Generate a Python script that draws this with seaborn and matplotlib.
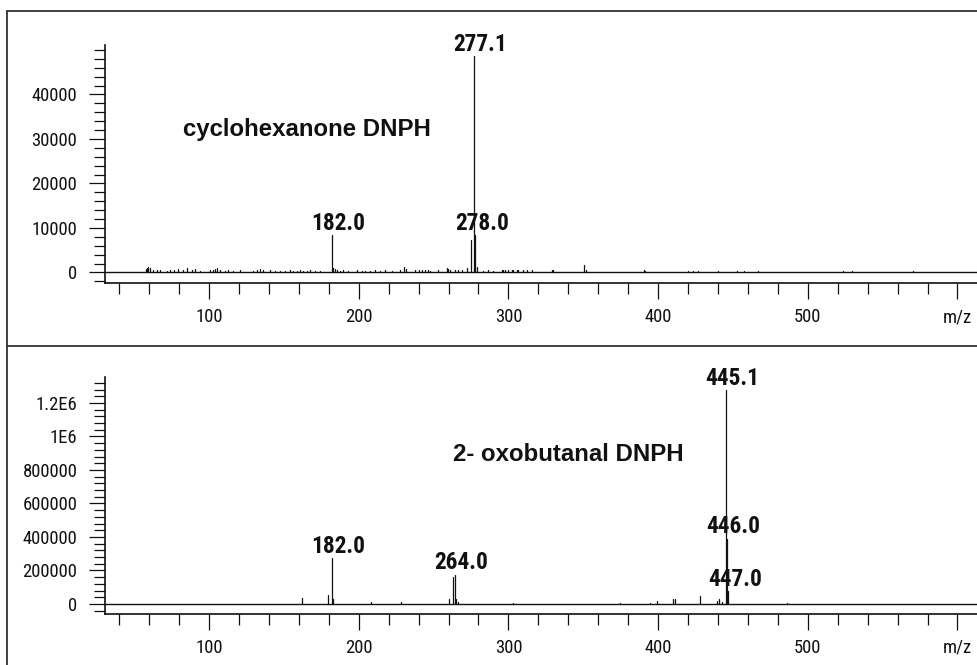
import matplotlib
matplotlib.use("Agg")
import matplotlib.pyplot as plt
from matplotlib.lines import Line2D
from matplotlib.ticker import FixedLocator, FixedFormatter, MultipleLocator
import pandas as pd
import seaborn as sns

# ---- cyclohexanone DNPH: centroid peaks (m/z, abundance) ----
cyc_mz = [57.7, 58.4, 59.5, 60.6, 62.8, 65.1, 67.3, 71.7, 73.9, 76.6, 79.5, 82.8,
          85.1, 88.4, 90.6, 94.0, 100.7, 102.9, 104.0, 105.1, 107.3, 110.7, 112.9,
          116.2, 120.7, 129.6, 131.9, 134.1, 136.3, 140.7, 144.1, 147.4, 150.8,
          154.1, 156.3, 158.6, 160.8, 163.0, 165.3, 167.5, 170.8, 174.1,
          182.0, 183.0, 184.2, 185.3, 187.5, 189.7, 193.1, 198.7, 202.0, 204.2,
          207.5, 210.9, 214.2, 217.6, 222.0, 227.6, 230.3, 231.6, 237.6, 240.5,
          242.1, 244.3, 246.5, 247.6, 253.2, 258.8, 259.9, 261.0, 264.3, 266.5,
          268.8, 272.2, 275.1, 277.1, 278.0, 278.8, 283.2, 286.6, 289.9, 295.5,
          296.6, 297.7, 299.9, 302.2, 303.3, 305.5, 306.6, 310.0, 312.2, 315.6,
          328.9, 330.0, 350.8, 351.5, 390.6, 391.3, 420.0, 423.6, 426.5, 439.8,
          452.9, 457.4, 467.0, 523.3, 529.3, 570.5]
cyc_int = [700, 1000, 1300, 900, 500, 450, 500, 400, 450, 600, 800, 500,
           1100, 500, 700, 400, 450, 500, 700, 1000, 600, 400, 450,
           400, 450, 400, 500, 800, 600, 450, 400, 400, 400,
           450, 400, 400, 450, 400, 400, 450, 400, 300,
           8400, 1000, 700, 500, 400, 450, 400, 450, 400, 400,
           400, 450, 400, 450, 400, 450, 1300, 700, 450, 600,
           500, 500, 450, 400, 450, 1100, 800, 600, 500, 500,
           450, 900, 7300, 48600, 8400, 1200, 400, 450, 400, 500,
           500, 450, 500, 450, 500, 450, 500, 450, 500, 450,
           500, 450, 1700, 500, 450, 400, 350, 350, 350, 400,
           350, 400, 400, 350, 350, 400]
cyc_labeled = [182.0, 277.1, 278.0]

# ---- 2-oxobutanal DNPH ----
oxo_mz = [162.3, 179.7, 182.0, 183.0, 208.2, 228.0, 260.5, 263.0, 264.0, 265.2,
          266.0, 302.9, 374.5, 394.6, 399.1, 410.2, 411.3, 428.0, 439.2, 440.9,
          442.5, 445.1, 446.0, 447.0, 485.9]
oxo_int = [36000, 56000, 273000, 32000, 12000, 12000, 32000, 163000, 173000, 32000,
           12000, 8000, 6000, 6000, 16000, 32000, 32000, 46000, 16000, 32000,
           10000, 1275000, 388000, 76000, 6000]
oxo_labeled = [182.0, 264.0, 445.1, 446.0, 447.0]

titles = ["cyclohexanone DNPH", "2- oxobutanal DNPH"]

top_yticks = [0, 10000, 20000, 30000, 40000]
top_yticklabels = ["0", "10000", "20000", "30000", "40000"]
bot_yticks = [0, 200000, 400000, 600000, 800000, 1000000, 1200000]
bot_yticklabels = ["0", "200000", "400000", "600000", "800000", "1E6", "1.2E6"]
x_ticks = [100, 200, 300, 400, 500, 600]
x_ticklabels = ["100", "200", "300", "400", "500", "m/z"]

sns.set_theme(style="ticks")
NARROW = ["Liberation Sans Narrow", "Roboto Condensed", "DejaVu Sans Condensed",
          "Liberation Sans", "DejaVu Sans"]
WIDE = ["Liberation Sans", "Arial", "DejaVu Sans"]
plt.rcParams["font.family"] = NARROW
plt.rcParams["axes.unicode_minus"] = False

W, H = 978, 665
fig = plt.figure(figsize=(W / 100, H / 100), dpi=100)
fig.patch.set_facecolor("white")


def stick_frame(mz, inten):
    rows = []
    for i, (m, v) in enumerate(zip(mz, inten)):
        rows.append({"peak": i, "mz": m, "abund": 0.0})
        rows.append({"peak": i, "mz": m, "abund": v})
    return pd.DataFrame(rows)


def panel(rect, mz, inten, labeled, title, title_pos, ylim, yticks, yticklabels,
          yminor):
    ax = fig.add_axes(rect)
    ax.set_facecolor("white")
    df = stick_frame(mz, inten)
    sns.lineplot(data=df, x="mz", y="abund", units="peak", estimator=None,
                 color="#111111", linewidth=0.9, ax=ax, legend=False)
    ax.axhline(0, color="#111111", lw=1.0, zorder=1)
    ax.set_xlim(30.5, 613.7)
    ax.set_ylim(*ylim)
    ax.set_xlabel("")
    ax.set_ylabel("")
    sns.despine(ax=ax)
    for s in ("left", "bottom"):
        ax.spines[s].set_color("#111111")
        ax.spines[s].set_linewidth(1.2)

    ax.xaxis.set_major_locator(FixedLocator(x_ticks))
    ax.xaxis.set_major_formatter(FixedFormatter(x_ticklabels))
    ax.xaxis.set_minor_locator(MultipleLocator(20))
    ax.yaxis.set_major_locator(FixedLocator(yticks))
    ax.yaxis.set_major_formatter(FixedFormatter(yticklabels))
    ax.yaxis.set_minor_locator(FixedLocator(yminor))
    ax.tick_params(axis="both", which="major", length=11.5, width=0.9,
                   color="#111111", labelsize=13.4, labelcolor="#111111",
                   direction="out")
    ax.tick_params(axis="both", which="minor", length=8, width=0.9,
                   color="#111111", direction="out")
    ax.tick_params(axis="x", which="major", pad=6.5)
    ax.tick_params(axis="y", which="major", pad=8.4)
    ax.grid(False)

    lookup = dict(zip(mz, inten))
    for m in labeled:
        ax.annotate(f"{m:.1f}", xy=(m, lookup[m]), xytext=(4.5, 4),
                    textcoords="offset points", ha="center", va="baseline",
                    fontsize=16.8, fontweight="bold", family=NARROW,
                    color="#111111")
    ax.text(title_pos[0], title_pos[1], title, transform=ax.transAxes,
            ha="center", va="baseline", fontsize=17.3, fontweight="bold",
            family=WIDE, color="#111111")
    return ax


left = 105 / W
width = (W - 105) / W

panel([left, 1 - 283 / H, width, 238 / H], cyc_mz, cyc_int, cyc_labeled,
      titles[0], (0.2314, 0.619), (-2360, 51120), top_yticks, top_yticklabels,
      list(range(-2000, 50001, 2000)))

panel([left, 1 - 614 / H, width, 237 / H], oxo_mz, oxo_int, oxo_labeled,
      titles[1], (0.531, 0.647), (-59700, 1355000), bot_yticks, bot_yticklabels,
      list(range(-40000, 1320001, 40000)))

# outer frame: left edge, top edge and the divider between the two spectra
frame_kw = dict(transform=fig.transFigure, color="#333333", lw=1.3)
fig.add_artist(Line2D([7.5 / W, 7.5 / W], [0, 1 - 11 / H], **frame_kw))
fig.add_artist(Line2D([7.5 / W, 1], [1 - 11 / H, 1 - 11 / H], **frame_kw))
fig.add_artist(Line2D([7.5 / W, 1], [1 - 346 / H, 1 - 346 / H], **frame_kw))

fig.savefig("out.png", dpi=100, facecolor="white")
